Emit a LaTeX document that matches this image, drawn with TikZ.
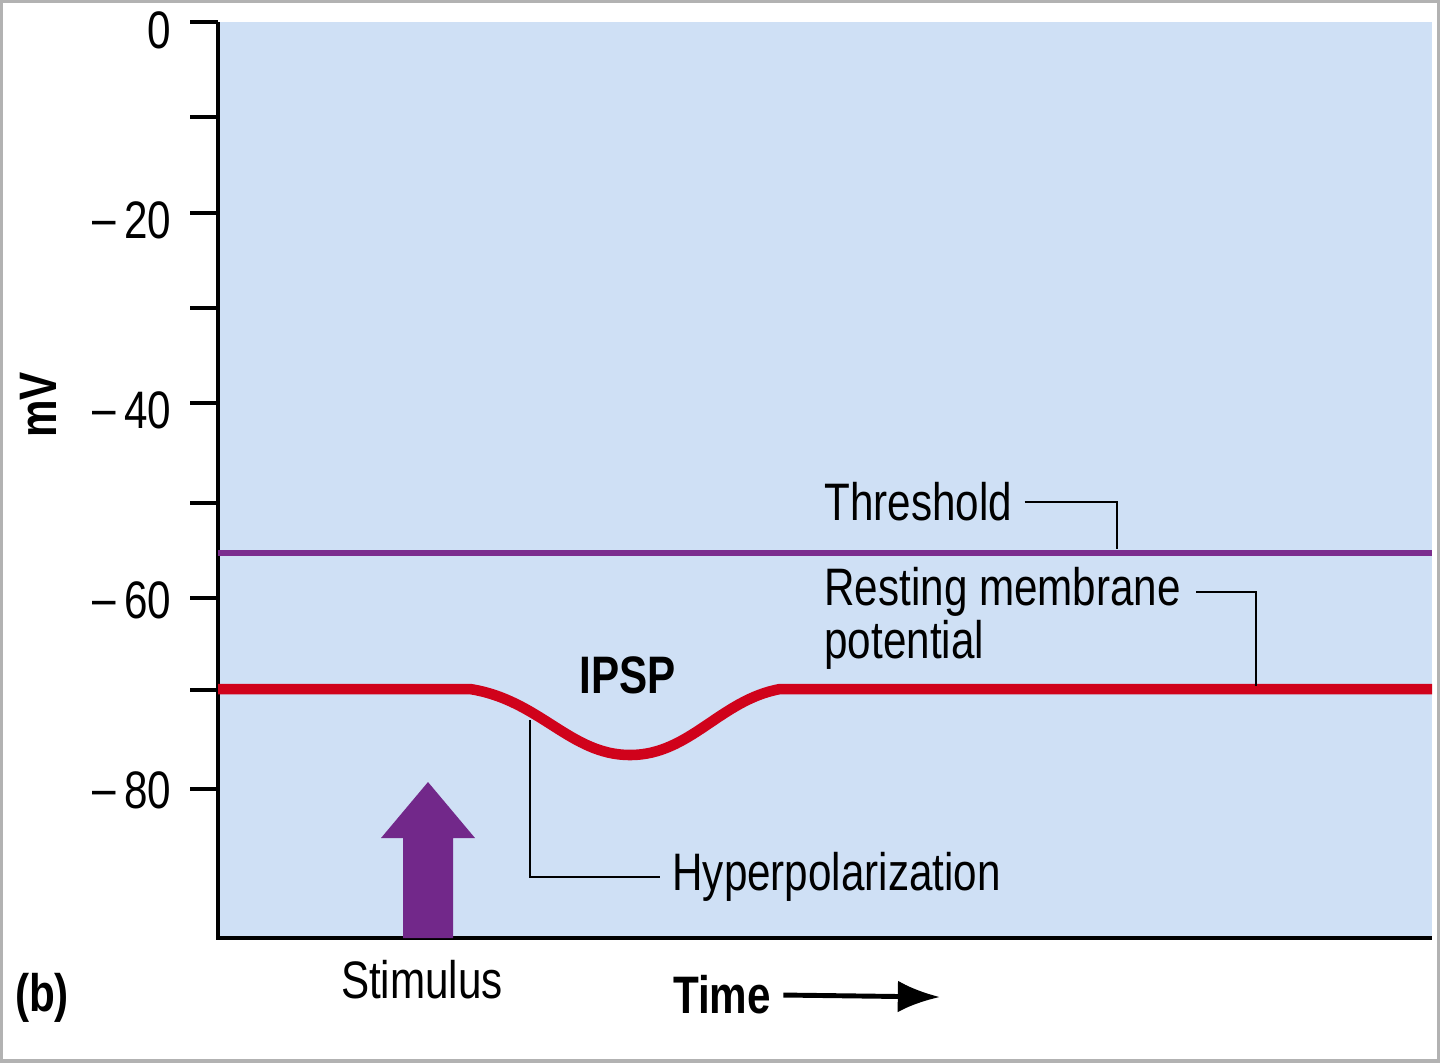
\documentclass[tikz,border=0pt]{standalone}
\usepackage{fontspec}
\setmainfont{Liberation Sans}[FakeStretch=0.8]
\usetikzlibrary{arrows.meta}
\definecolor{plotblue}{HTML}{CFE0F5}
\definecolor{threshpurple}{HTML}{7B2D8E}
\definecolor{stimpurple}{HTML}{72288A}
\definecolor{restred}{HTML}{D0021B}
\begin{document}
\begin{tikzpicture}[x=0.01cm, y=-0.01cm, font=\fontsize{15}{17}\selectfont,
  leader/.style={black, line width=0.8pt},
  ticklabel/.style={anchor=east, inner sep=0pt}]

\useasboundingbox (0, 0) rectangle (1440, 1062);
\draw[gray!60, line width=1pt] (1, 1) rectangle (1439, 1061);

\fill[plotblue] (218, 22) rectangle (1432, 938);
\draw[line width=0.9pt] (218, 22) -- (218, 938) -- (1432, 938);

\foreach \y in {22, 117, 213, 308, 403, 503, 598, 690, 789}
  \draw[line width=0.9pt] (190, \y) -- (218, \y);

\node[ticklabel] (t0) at (172, 30) {0};
\node[ticklabel] (t20) at (172, 220) {\raisebox{0.5pt}{--}\,20};
\node[ticklabel] (t40) at (172, 410) {\raisebox{0.5pt}{--}\,40};
\node[ticklabel] (t60) at (172, 600) {\raisebox{0.5pt}{--}\,60};
\node[ticklabel] (t80) at (172, 790) {\raisebox{0.5pt}{--}\,80};
\node[rotate=90, font=\fontsize{15}{17}\selectfont\bfseries] (mv) at (38, 405) {mV};

% threshold and resting potential
\draw[threshpurple, line width=1.6pt] (218, 553) -- (1432, 553);
\draw[restred, line width=3pt] (218, 689) -- (470, 689)
  .. controls (540, 700) and (570, 755) .. (630, 755)
  .. controls (690, 755) and (720, 700) .. (780, 689) -- (1432, 689);

\node[anchor=west] (thresh) at (812, 502) {Threshold};
\draw[leader] (thresh.east) -- (1117, 502) -- (1117, 549);
\node[anchor=west, align=left] (rest) at (812, 618) {Resting membrane\\[-2pt]potential};
\draw[leader] (1196, 592) -- (1256, 592) -- (1256, 686);

\node[font=\fontsize{15}{17}\selectfont\bfseries] (ipsp) at (628, 675) {IPSP};

\node[anchor=west] (hyper) at (660, 877) {Hyperpolarization};
\draw[leader] (530, 720) -- (530, 877) -- (hyper.west);

% stimulus arrow
\fill[stimpurple] (403, 938) -- (403, 838) -- (381, 838) -- (428, 782)
  -- (475, 838) -- (453, 838) -- (453, 938) -- cycle;
\node (stim) at (422, 980) {Stimulus};

\node[font=\fontsize{15}{17}\selectfont\bfseries] (time) at (722, 995) {Time};
\coordinate (timeend) at (940, 997);
\draw[-{Latex[length=12pt,width=9pt]}, line width=1.4pt] (time.east) -- (timeend);

\node[font=\fontsize{15}{17}\selectfont\bfseries] (b) at (42, 998) {(b)};

\end{tikzpicture}
\end{document}
